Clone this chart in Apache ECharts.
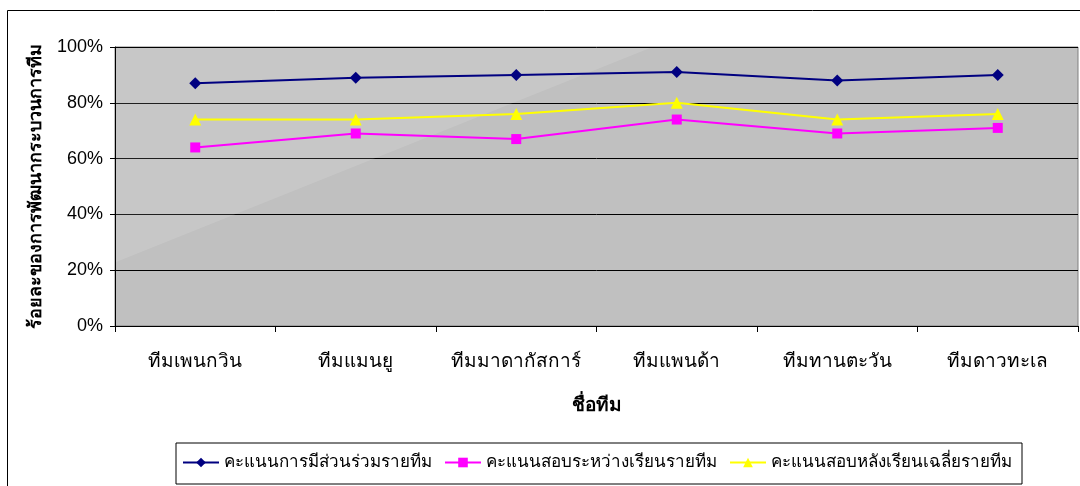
<!DOCTYPE html>
<html>
<head>
<meta charset="utf-8">
<script src="https://cdn.jsdelivr.net/npm/echarts@6/dist/echarts.min.js"></script>
<style>
  html, body { margin: 0; padding: 0; background: #fff; }
  #chart { width: 1080px; height: 486px; }
</style>
</head>
<body>
<div id="chart"></div>
<script>
const teams = ['ทีมเพนกวิน', 'ทีมแมนยู', 'ทีมมาดากัสการ์', 'ทีมแพนด้า', 'ทีมทานตะวัน', 'ทีมดาวทะเล'];
const participation = [87, 89, 90, 91, 88, 90];
const midTest = [64, 69, 67, 74, 69, 71];
const postTest = [74, 74, 76, 80, 74, 76];
const seriesNames = ['คะแนนการมีส่วนร่วมรายทีม', 'คะแนนสอบระหว่างเรียนรายทีม', 'คะแนนสอบหลังเรียนเฉลี่ยรายทีม'];

const FONT = '"Liberation Sans Narrow", "Liberation Sans", "Noto Sans", sans-serif';

const chart = echarts.init(document.getElementById('chart'));

function lineSeries(name, data, color, symbol, size) {
    return {
        name: name,
        type: 'line',
        data: data,
        symbol: symbol,
        symbolSize: size,
        lineStyle: { color: color, width: 2 },
        itemStyle: { color: color },
        z: 5
    };
}

const option = {
    animation: false,
    backgroundColor: '#fff',
    textStyle: { fontFamily: FONT },
    graphic: [
        // outer chart frame
        { type: 'rect', shape: { x: 7.5, y: 10.5, width: 1080, height: 500 },
          style: { fill: null, stroke: '#000', lineWidth: 1 }, z: -10 },
        // lighter diagonal patch of the plot area
        { type: 'polygon', shape: { points: [[116, 262], [116, 48], [650, 48]] },
          style: { fill: 'rgba(255,255,255,0.12)' }, z: 1, silent: true }
    ],
    grid: {
        left: 115, right: 2, top: 47, bottom: 160,
        show: true,
        backgroundColor: '#c0c0c0',
        borderColor: '#808080',
        borderWidth: 1
    },
    legend: {
        left: 176, top: 443,
        padding: [11, 10, 13, 6],
        itemGap: 12,
        itemWidth: 36, itemHeight: 12,
        borderColor: '#000', borderWidth: 1,
        textStyle: { fontSize: 17, color: '#000', fontFamily: FONT },
        data: seriesNames
    },
    xAxis: {
        type: 'category',
        data: teams,
        boundaryGap: true,
        name: 'ชื่อทีม',
        nameLocation: 'middle',
        nameGap: 70,
        nameTextStyle: { fontSize: 19, fontWeight: 'bold', color: '#000' },
        axisLine: { lineStyle: { color: '#000', width: 1 } },
        axisTick: { show: true, length: 6, lineStyle: { color: '#000' } },
        axisLabel: { fontSize: 19, color: '#000', margin: 26, interval: 0 }
    },
    yAxis: {
        type: 'value',
        min: 0, max: 100, interval: 20,
        name: 'ร้อยละของการพัฒนากระบวนการทีม',
        nameLocation: 'middle',
        nameRotate: 90,
        nameGap: 70,
        nameTextStyle: { fontSize: 18, fontWeight: 'bold', color: '#000' },
        axisLine: { show: true, lineStyle: { color: '#000', width: 1 } },
        axisTick: { show: true, length: 5, lineStyle: { color: '#000' } },
        axisLabel: { fontSize: 18, color: '#000', margin: 12, formatter: '{value}%' },
        splitLine: { lineStyle: { color: '#000', width: 1 } }
    },
    series: [
        lineSeries(seriesNames[0], participation, '#000080', 'diamond', 12),
        lineSeries(seriesNames[1], midTest, '#ff00ff', 'rect', 10),
        lineSeries(seriesNames[2], postTest, '#ffff00', 'triangle', 12)
    ]
};

chart.setOption(option);
</script>
</body>
</html>
